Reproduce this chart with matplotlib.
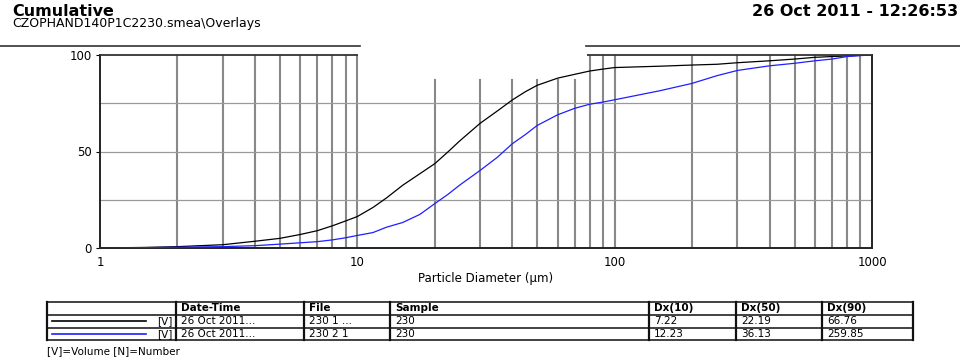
import matplotlib
matplotlib.use("Agg")
import matplotlib.pyplot as plt
from matplotlib.ticker import NullLocator
from matplotlib.patches import Rectangle

plt.rcParams['font.family'] = ['DejaVu Sans']

# Particle size classes (µm) and cumulative volume (%) for the two runs
sizes = [1, 1.5, 2, 3, 4, 5, 6, 7, 8, 9, 10, 11.5, 13, 15, 17.5, 20, 22.5, 25,
         30, 35, 40, 45, 50, 60, 70, 80, 90, 100, 150, 200, 250, 300, 400, 500,
         600, 700, 800, 900, 1000]
cum_run1 = [0, 0.3, 0.7, 1.7, 3.5, 5, 7, 9, 11.5, 14, 16.3, 21, 26, 32.5, 38.5,
            43.7, 49.8, 55.5, 64.6, 71, 76.7, 81, 84.3, 88, 90, 91.7, 92.7,
            93.5, 94.2, 94.8, 95.2, 96, 97, 97.9, 98.8, 99.2, 99.5, 99.8, 100]
cum_run2 = [0, 0.2, 0.4, 0.7, 1.2, 2, 2.7, 3.3, 4.2, 5.3, 6.5, 8, 10.8, 13.2,
            17.4, 23, 27.8, 32.6, 40.2, 47, 54, 58.8, 63.5, 69, 72.4, 74.5,
            75.6, 76.8, 81.5, 85.3, 89.3, 92, 94.4, 95.7, 97, 97.9, 99.2, 99.7,
            100]

grid_full = [2, 3, 4, 5, 6, 7, 8, 9, 10, 80, 90, 100,
             200, 300, 400, 500, 600, 700, 800, 900]
grid_short = [20, 30, 40, 50, 60, 70]
grid_h = [25, 50, 75]

x_ticks = [1, 10, 100, 1000]
x_tick_labels = ['1', '10', '100', '1000']
y_ticks = [0, 50, 100]
y_tick_labels = ['0', '50', '100']

# Results table
col_headers = ['', 'Date-Time', 'File', 'Sample', 'Dx(10)', 'Dx(50)', 'Dx(90)']
run_colors = ['black', '#1f1fff']
run_dates = ['26 Oct 2011...', '26 Oct 2011...']
run_files = ['230 1 ...', '230 2 1']
run_samples = ['230', '230']
dx10 = [7.22, 12.23]
dx50 = [22.19, 36.13]
dx90 = [66.76, 259.85]

W, H = 960, 361
fig = plt.figure(figsize=(W / 100, H / 100), dpi=100)

ax = fig.add_axes([100 / W, 1 - 248 / H, (872 - 100) / W, (248 - 55) / H])
ax.set_xscale('log')
ax.set_xlim(1, 1000)
ax.set_ylim(0, 100)

for v in grid_full:
    ax.axvline(v, color='#888888', lw=1.5, zorder=1)
for v in grid_short:
    ax.axvline(v, ymin=0, ymax=0.87, color='#888888', lw=1.5, zorder=1)
for v in grid_h:
    ax.axhline(v, color='#9a9a9a', lw=0.9, zorder=1)

ax.plot(sizes, cum_run1, color=run_colors[0], lw=0.9, zorder=3)
ax.plot(sizes, cum_run2, color=run_colors[1], lw=0.9, zorder=3)

ax.spines['top'].set_visible(False)
for s in ['left', 'bottom', 'right']:
    ax.spines[s].set_color('#222222')
    ax.spines[s].set_linewidth(1.4)
ax.hlines(100, 1, 10.1, color='#333333', lw=1.3, clip_on=False, zorder=4)
ax.hlines(100, 78, 1000, color='#333333', lw=1.3, clip_on=False, zorder=4)

ax.set_xticks(x_ticks)
ax.set_xticklabels(x_tick_labels)
ax.xaxis.set_minor_locator(NullLocator())
ax.set_yticks(y_ticks)
ax.set_yticklabels(y_tick_labels)
ax.tick_params(axis='x', length=0, pad=6, labelsize=8.5)
ax.tick_params(axis='y', length=3, pad=3, labelsize=8.5)
ax.set_xlabel('Particle Diameter (µm)', fontsize=8.5, labelpad=2)

# Header, rules and table drawn in pixel space
ov = fig.add_axes([0, 0, 1, 1])
ov.set_xlim(0, W)
ov.set_ylim(H, 0)
ov.axis('off')

ov.text(12, 11, 'Cumulative', fontsize=11.5, fontweight='bold', va='center')
sub = ov.text(12, 24, 'CZOPHAND140P1C2230.smea\\Overlays', fontsize=9,
              va='center')
clip = Rectangle((0, 0), 358, 40, transform=ov.transData, visible=False)
ov.add_patch(clip)
sub.set_clip_path(clip)
ov.text(958, 11, '26 Oct 2011 - 12:26:53', fontsize=11.5, fontweight='bold',
        va='center', ha='right')
ov.plot([0, 360], [46, 46], color='#333333', lw=1.2)
ov.plot([586, 960], [46, 46], color='#333333', lw=1.2)

col_x = [47, 176, 304, 390, 649, 736, 822, 913]
row_y = [302, 314.5, 327.5, 340]

for y in row_y:
    ov.plot([col_x[0], col_x[-1]], [y, y], color='#333333', lw=1.3)
for x in col_x:
    ov.plot([x, x], [row_y[0], row_y[-1]], color='#111111', lw=1.6)

def cell_mid(r):
    return (row_y[r] + row_y[r + 1]) / 2

for c, txt in enumerate(col_headers):
    if txt:
        ov.text(col_x[c] + 5, cell_mid(0), txt, fontsize=7.5,
                fontweight='bold', va='center')

for r in range(2):
    ym = cell_mid(r + 1)
    ov.plot([52, 146], [ym, ym], color=run_colors[r], lw=1.2)
    ov.text(173, ym, '[V]', fontsize=7.5, va='center', ha='right')
    row = [run_dates[r], run_files[r], run_samples[r],
           f'{dx10[r]:.2f}', f'{dx50[r]:.2f}', f'{dx90[r]:.2f}']
    for c, txt in enumerate(row, start=1):
        ov.text(col_x[c] + 5, ym, txt, fontsize=7.5, va='center')

ov.text(47, 351, '[V]=Volume [N]=Number', fontsize=7.5, va='center')

fig.savefig('out.png', dpi=100)
